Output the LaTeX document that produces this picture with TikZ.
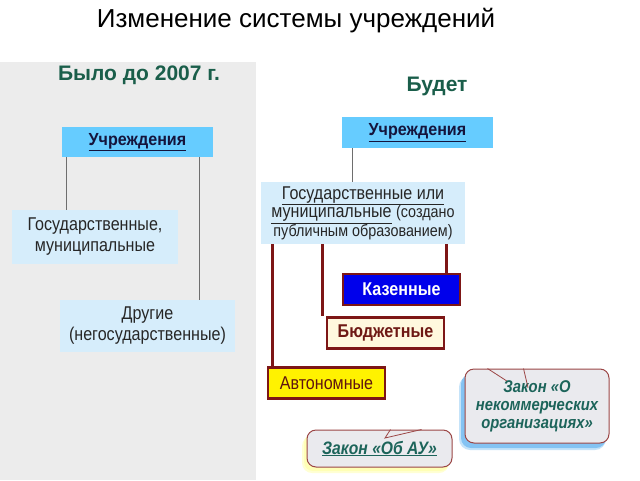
\documentclass[tikz,border=0pt]{standalone}
\usepackage{fontspec}
\setmainfont{Liberation Sans}
\newfontfamily\narrowfont[FakeStretch=0.87]{Liberation Sans}
\newfontfamily\semifont[FakeStretch=0.92]{Liberation Sans}
\usetikzlibrary{calc}
\definecolor{panel}{RGB}{236,236,236}
\definecolor{hdgreen}{RGB}{26,94,74}
\definecolor{skyfill}{RGB}{102,204,255}
\definecolor{palefill}{RGB}{214,237,251}
\definecolor{navytext}{RGB}{20,20,60}
\definecolor{greyline}{RGB}{110,110,110}
\definecolor{darkred}{RGB}{125,22,22}
\definecolor{kazblue}{RGB}{0,0,235}
\definecolor{cream}{RGB}{255,248,222}
\definecolor{brownred}{RGB}{110,25,20}
\definecolor{calfill}{RGB}{234,234,238}
\definecolor{calborder}{RGB}{155,70,70}
\definecolor{teal}{RGB}{28,100,90}
\definecolor{yshadow}{RGB}{255,255,170}
\definecolor{bshadow}{RGB}{90,175,240}
\begin{document}
\begin{tikzpicture}[x=1pt,y=-1pt,
  boxbase/.style={rectangle, inner sep=0pt, align=center},
  topbox/.style={boxbase, fill=skyfill, text=navytext, font=\semifont\fontsize{17.5}{20}\selectfont\bfseries},
  palebox/.style={boxbase, fill=palefill, text=black!85, font=\narrowfont\fontsize{18.5}{21}\selectfont},
  typebox/.style={boxbase, draw=darkred, line width=2.5pt, minimum width=117pt, minimum height=31pt, font=\narrowfont\fontsize{18.5}{20}\selectfont},
  callout/.style={boxbase, draw=calborder, line width=1pt, fill=calfill, rounded corners=9pt, text=teal},
  greyconn/.style={draw=greyline, line width=1.2pt},
  redconn/.style={draw=darkred, line width=3pt},
  heading/.style={text=hdgreen, font=\fontsize{21}{24}\selectfont\bfseries}]
\useasboundingbox (0,0) rectangle (640,480);
\fill[white] (0,0) rectangle (640,480);
\fill[panel] (0,62) rectangle (256,480);

\node (title) at (296,21) {\fontsize{26}{30}\selectfont Изменение системы учреждений};
\node[heading] (was) at (139,75) {Было до 2007 г.};
\node[heading] (will) at (437,86) {Будет};

% left side
\node[topbox, minimum width=151pt, minimum height=30pt] (uL) at (137.5,142) {\underline{Учреждения}};
\node[palebox, minimum width=166pt, minimum height=54pt] (gL) at (95,237) {Государственные,\\муниципальные};
\node[palebox, minimum width=175pt, minimum height=52pt] (oL) at (147.5,326) {Другие\\(негосударственные)};
\draw[greyconn] ([xshift=5pt]uL.south west) -- ([xshift=5pt]uL.south west |- gL.north);
\draw[greyconn] ([xshift=-14pt]uL.south east) -- ([xshift=-14pt]uL.south east |- oL.north);

% right side
\node[topbox, minimum width=151pt, minimum height=31pt] (uR) at (417.5,132.5) {\underline{Учреждения}};
\node[palebox, minimum width=204pt, minimum height=62pt, font=\narrowfont\fontsize{18.5}{18.5}\selectfont] (gR) at (363,213)
  {\underline{Государственные или}\\\underline{муниципальные} {\fontsize{16.5}{18.5}\selectfont(создано}\\{\fontsize{16.5}{18.5}\selectfont публичным образованием)}};
\draw[greyconn] ([xshift=11pt]uR.south west) -- ([xshift=11pt]uR.south west |- gR.north);

\node[typebox, fill=kazblue, text=white, font=\narrowfont\fontsize{18.5}{20}\selectfont\bfseries] (kaz) at (401.5,289.5) {Казенные};
\node[typebox, fill=cream, text=brownred, font=\narrowfont\fontsize{18.5}{20}\selectfont\bfseries] (bud) at (385.5,333) {Бюджетные};
\node[typebox, fill=yellow, text=brownred!85!black] (avt) at (326.5,383) {Автономные};

\draw[redconn] ([xshift=12pt]gR.south west) -- ([xshift=12pt]gR.south west |- avt.north);
\draw[redconn] ([xshift=62pt]gR.south west) -- ([xshift=62pt]gR.south west |- bud.north);
\draw[redconn] ([xshift=-19pt]gR.south east) -- ([xshift=-19pt]gR.south east |- kaz.north);

% callouts with soft shadows
\fill[yshadow, opacity=0.5, rounded corners=10pt] (302,436) rectangle (449,473);
\fill[yshadow, opacity=0.7, rounded corners=9pt] (304,434) rectangle (449,471);
\node[callout, minimum width=145pt, minimum height=37pt, font=\narrowfont\fontsize{18}{18}\selectfont\bfseries\itshape] (cAU) at (379.5,448.5) {\underline{Закон «Об АУ»}};
\coordinate (tipAU) at (385,438);
\draw[calborder, line width=0.8pt] ([xshift=84pt]cAU.north west) -- (tipAU) -- ([xshift=115pt]cAU.north west);

\fill[bshadow, opacity=0.35, rounded corners=11pt] (459,376) rectangle (606,450);
\fill[bshadow, opacity=0.6, rounded corners=10pt] (461,374) rectangle (606,448);
\node[callout, minimum width=144pt, minimum height=74pt, font=\narrowfont\fontsize{17}{18}\selectfont\bfseries\itshape] (cNKO) at (537,406) {Закон «О\\некоммерческих\\организациях»};
\coordinate (tipNKO) at (530,396);
\draw[calborder, line width=0.8pt] ([xshift=23pt]cNKO.north west) -- ($([xshift=23pt]cNKO.north west)!0.45!(tipNKO)$);
\draw[calborder, line width=0.8pt] ([xshift=59pt]cNKO.north west) -- ($([xshift=59pt]cNKO.north west)!0.7!(tipNKO)$);
\end{tikzpicture}
\end{document}
